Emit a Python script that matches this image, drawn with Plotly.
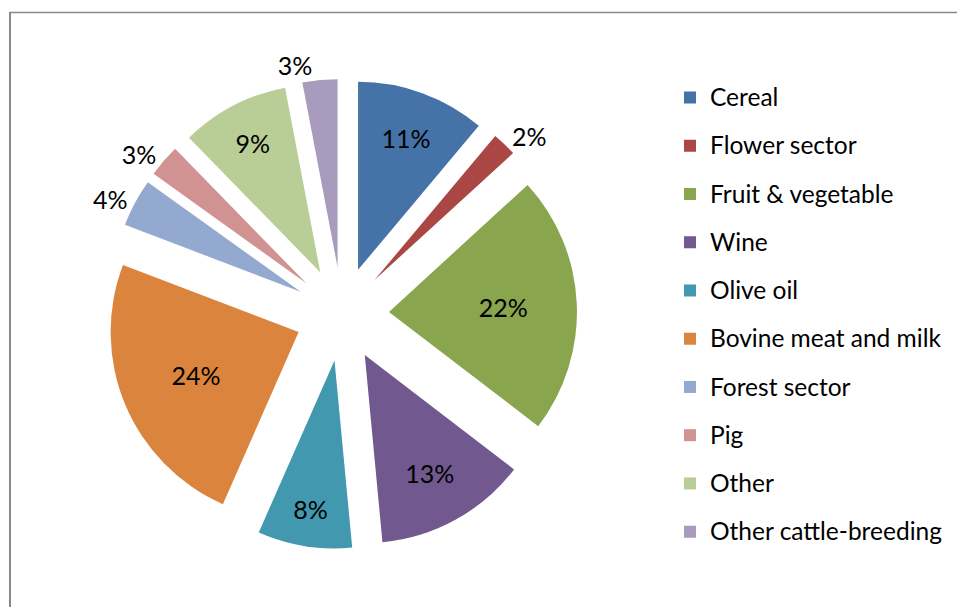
import plotly.graph_objects as go

categories = ["Cereal", "Flower sector", "Fruit & vegetable", "Wine", "Olive oil",
              "Bovine meat and milk", "Forest sector", "Pig", "Other", "Other cattle-breeding"]
shares = [11.1, 2.1, 22.2, 13.1, 8.1, 24.2, 4.1, 2.8, 9.3, 3.0]
colors = ["#4572A7", "#AA4643", "#89A54E", "#71588F", "#4198AF",
          "#DB843D", "#93A9CF", "#D19392", "#B9CD96", "#A99BBD"]
text_pos = ["inside", "outside", "inside", "inside", "inside",
            "inside", "outside", "outside", "inside", "outside"]

W, H = 957, 607
FONT = "Lato, 'Open Sans', sans-serif"

legend_labels = ['<span style="font-size:24.5px;baseline-shift:5px">%s</span>' % c for c in categories]

fig = go.Figure(go.Pie(
    labels=legend_labels,
    values=shares,
    sort=False,
    direction="clockwise",
    rotation=0,
    pull=[0.25] * len(shares),
    marker=dict(colors=colors, line=dict(width=0)),
    texttemplate="%{percent:.0%}",
    textposition=text_pos,
    insidetextorientation="horizontal",
    textfont=dict(family=FONT, size=25, color="black"),
    insidetextfont=dict(family=FONT, size=25, color="black"),
    outsidetextfont=dict(family=FONT, size=25, color="black"),
    hoverinfo="label+percent",
    domain=dict(x=[107 / W, 577 / W], y=[1 - 549 / H, 1 - 79 / H]),
))

fig.update_layout(
    width=W, height=H,
    margin=dict(l=0, r=0, t=0, b=0, autoexpand=False),
    paper_bgcolor="white",
    plot_bgcolor="white",
    font=dict(family=FONT, color="black"),
    legend=dict(
        x=670 / W, xanchor="left",
        y=1 - 68.4 / H, yanchor="top",
        font=dict(family=FONT, size=34.8, color="black"),
        bgcolor="rgba(0,0,0,0)",
        borderwidth=0,
        traceorder="normal",
    ),
    shapes=[
        dict(type="line", xref="paper", yref="paper",
             x0=10 / W, x1=10 / W, y0=1 - 12 / H, y1=-0.05,
             line=dict(color="#888888", width=2)),
        dict(type="line", xref="paper", yref="paper",
             x0=10 / W, x1=1.05, y0=1 - 12.5 / H, y1=1 - 12.5 / H,
             line=dict(color="#888888", width=1.3)),
    ],
)

fig.write_html(
    "out.html",
    config={"displayModeBar": False},
    post_script="document.body.style.margin='0';document.body.style.overflow='hidden';",
)
